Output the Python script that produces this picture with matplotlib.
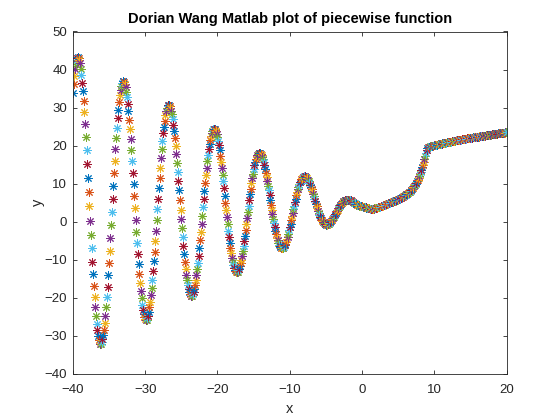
import numpy as np
import matplotlib
matplotlib.use("Agg")
import matplotlib.pyplot as plt

plt.rcParams['font.family'] = ['Liberation Sans', 'DejaVu Sans']

step = 0.1

# y values for x < 0, listed by distance from zero: x = -0.1, -0.2, ..., -40.0
y_neg_by_dist = [
    4.01, 4.04, 4.09, 4.16, 4.24, 4.34, 4.45, 4.57, 4.70, 4.84,
    4.98, 5.12, 5.25, 5.38, 5.50, 5.60, 5.69, 5.75, 5.80, 5.82,
    5.81, 5.78, 5.72, 5.62, 5.50, 5.34, 5.15, 4.94, 4.69, 4.42,
    4.13, 3.81, 3.48, 3.13, 2.77, 2.41, 2.04, 1.67, 1.32, 0.97,
    0.65, 0.34, 0.06, -0.19, -0.40, -0.57, -0.70, -0.78, -0.81, -0.79,
    -0.72, -0.59, -0.41, -0.17, 0.12, 0.47, 0.86, 1.31, 1.79, 2.32,
    2.89, 3.48, 4.11, 4.75, 5.40, 6.06, 6.71, 7.36, 7.99, 8.60,
    9.18, 9.71, 10.21, 10.65, 11.04, 11.36, 11.61, 11.79, 11.89, 11.91,
    11.86, 11.71, 11.49, 11.18, 10.79, 10.32, 9.77, 9.15, 8.46, 7.71,
    6.90, 6.05, 5.16, 4.23, 3.29, 2.33, 1.36, 0.41, -0.53, -1.44,
    -2.31, -3.14, -3.91, -4.61, -5.24, -5.78, -6.24, -6.59, -6.85, -7.00,
    -7.04, -6.97, -6.78, -6.48, -6.07, -5.54, -4.92, -4.18, -3.36, -2.44,
    -1.44, -0.37, 0.76, 1.95, 3.17, 4.42, 5.69, 6.96, 8.22, 9.46,
    10.66, 11.82, 12.91, 13.92, 14.85, 15.68, 16.41, 17.02, 17.51, 17.87,
    18.09, 18.17, 18.11, 17.91, 17.56, 17.06, 16.43, 15.67, 14.77, 13.75,
    12.63, 11.39, 10.07, 8.67, 7.20, 5.68, 4.13, 2.55, 0.97, -0.61,
    -2.15, -3.65, -5.10, -6.46, -7.74, -8.92, -9.98, -10.91, -11.70, -12.34,
    -12.83, -13.15, -13.30, -13.27, -13.07, -12.70, -12.15, -11.44, -10.56, -9.52,
    -8.33, -7.01, -5.56, -4.00, -2.34, -0.59, 1.21, 3.07, 4.95, 6.85,
    8.73, 10.59, 12.40, 14.15, 15.81, 17.37, 18.81, 20.11, 21.27, 22.26,
    23.08, 23.71, 24.15, 24.40, 24.44, 24.27, 23.90, 23.32, 22.54, 21.57,
    20.41, 19.08, 17.58, 15.93, 14.14, 12.23, 10.23, 8.14, 5.99, 3.81,
    1.60, -0.60, -2.78, -4.91, -6.96, -8.93, -10.78, -12.50, -14.06, -15.46,
    -16.68, -17.70, -18.51, -19.09, -19.45, -19.58, -19.47, -19.13, -18.55, -17.73,
    -16.69, -15.44, -13.98, -12.32, -10.49, -8.49, -6.36, -4.10, -1.74, 0.69,
    3.18, 5.69, 8.21, 10.71, 13.16, 15.53, 17.81, 19.97, 21.98, 23.83,
    25.49, 26.95, 28.19, 29.19, 29.95, 30.46, 30.70, 30.68, 30.38, 29.82,
    29.00, 27.92, 26.59, 25.02, 23.23, 21.23, 19.05, 16.70, 14.20, 11.59,
    8.87, 6.09, 3.27, 0.44, -2.38, -5.15, -7.85, -10.45, -12.92, -15.25,
    -17.39, -19.33, -21.05, -22.53, -23.76, -24.71, -25.39, -25.77, -25.86, -25.64,
    -25.13, -24.32, -23.22, -21.84, -20.19, -18.29, -16.15, -13.79, -11.24, -8.53,
    -5.66, -2.68, 0.38, 3.50, 6.65, 9.78, 12.88, 15.92, 18.85, 21.65,
    24.29, 26.74, 28.98, 30.98, 32.73, 34.19, 35.37, 36.23, 36.78, 37.00,
    36.89, 36.45, 35.68, 34.59, 33.18, 31.48, 29.48, 27.22, 24.72, 21.99,
    19.06, 15.97, 12.74, 9.40, 5.98, 2.53, -0.93, -4.36, -7.72, -10.99,
    -14.12, -17.09, -19.87, -22.42, -24.72, -26.75, -28.48, -29.89, -30.97, -31.70,
    -32.09, -32.11, -31.77, -31.06, -30.01, -28.60, -26.86, -24.81, -22.45, -19.82,
    -16.92, -13.81, -10.49, -7.02, -3.42, 0.28, 4.03, 7.81, 11.56, 15.26,
    18.87, 22.34, 25.65, 28.76, 31.64, 34.26, 36.58, 38.59, 40.27, 41.59,
    42.54, 43.10, 43.28, 43.07, 42.46, 41.46, 40.08, 38.34, 36.24, 33.80,
]

# y values for x = 0.0, 0.1, ..., 20.0
y_pos = [
    4.00, 3.96, 3.92, 3.86, 3.80, 3.74, 3.68, 3.62, 3.57, 3.52,
    3.48, 3.45, 3.43, 3.42, 3.42, 3.43, 3.45, 3.48, 3.52, 3.57,
    3.62, 3.68, 3.74, 3.80, 3.87, 3.94, 4.01, 4.08, 4.15, 4.22,
    4.30, 4.38, 4.46, 4.54, 4.62, 4.70, 4.78, 4.86, 4.94, 5.02,
    5.10, 5.18, 5.26, 5.34, 5.42, 5.50, 5.59, 5.68, 5.77, 5.86,
    5.95, 6.05, 6.15, 6.25, 6.35, 6.45, 6.56, 6.67, 6.78, 6.90,
    7.02, 7.15, 7.28, 7.42, 7.57, 7.73, 7.90, 8.08, 8.28, 8.50,
    8.74, 9.00, 9.28, 9.58, 9.90, 10.25, 10.63, 11.04, 11.48, 11.96,
    12.48, 13.04, 13.64, 14.28, 14.96, 15.68, 16.44, 17.24, 18.08, 18.90,
    19.40, 19.55, 19.65, 19.72, 19.78, 19.83, 19.88, 19.93, 19.98, 20.04,
    20.10, 20.15, 20.19, 20.24, 20.28, 20.33, 20.37, 20.42, 20.46, 20.51,
    20.55, 20.59, 20.63, 20.67, 20.71, 20.75, 20.79, 20.83, 20.87, 20.91,
    20.95, 20.99, 21.03, 21.07, 21.11, 21.15, 21.19, 21.23, 21.27, 21.31,
    21.35, 21.39, 21.42, 21.46, 21.49, 21.53, 21.56, 21.60, 21.63, 21.67,
    21.70, 21.74, 21.77, 21.81, 21.84, 21.88, 21.91, 21.95, 21.98, 22.02,
    22.05, 22.08, 22.11, 22.14, 22.17, 22.20, 22.23, 22.26, 22.29, 22.32,
    22.35, 22.38, 22.41, 22.44, 22.47, 22.50, 22.53, 22.56, 22.59, 22.62,
    22.65, 22.68, 22.71, 22.74, 22.77, 22.80, 22.83, 22.86, 22.89, 22.92,
    22.95, 22.98, 23.01, 23.04, 23.07, 23.10, 23.13, 23.16, 23.19, 23.22,
    23.25, 23.28, 23.30, 23.33, 23.35, 23.38, 23.40, 23.43, 23.45, 23.48,
    23.50,
]

x_ticks = [-40, -30, -20, -10, 0, 10, 20]
y_ticks = [-40, -30, -20, -10, 0, 10, 20, 30, 40, 50]

matlab_colors = ['#0072BD', '#D95319', '#EDB120', '#7E2F8E',
                 '#77AC30', '#4DBEEE', '#A2142F']

x_neg = -np.arange(1, len(y_neg_by_dist) + 1) * step
x_p = np.arange(len(y_pos)) * step
x_all = np.concatenate([x_neg[::-1], x_p])
y_all = np.concatenate([np.array(y_neg_by_dist)[::-1], np.array(y_pos)])

fig = plt.figure(figsize=(5.6, 4.2), dpi=100)
fig.patch.set_facecolor('white')
ax = fig.add_axes([0.13, 0.11, 0.775, 0.815])

for i, (xv, yv) in enumerate(zip(x_all, y_all)):
    ax.plot([xv], [yv], linestyle='none', marker=(8, 2, 0),
            markersize=6, markeredgewidth=0.7,
            color=matlab_colors[i % len(matlab_colors)])

ax.set_xlim(-40, 20)
ax.set_ylim(-40, 50)
ax.set_xticks(x_ticks)
ax.set_yticks(y_ticks)
axcol = '#262626'
for s in ax.spines.values():
    s.set_color(axcol)
    s.set_linewidth(0.6)
ax.tick_params(direction='in', top=True, right=True, length=3.2, width=0.6,
               colors=axcol, labelsize=9.5)
ax.tick_params(axis='x', pad=7.5)
ax.tick_params(axis='y', pad=4)
ax.set_xlabel('x', fontsize=10.5, color=axcol, labelpad=4.5)
ax.set_ylabel('y', fontsize=10.5, color=axcol, labelpad=0)
ax.set_title('Dorian Wang Matlab plot of piecewise function',
             fontsize=10.5, fontweight='bold', color='black', pad=6)

fig.savefig('out.png', dpi=100, facecolor='white')
